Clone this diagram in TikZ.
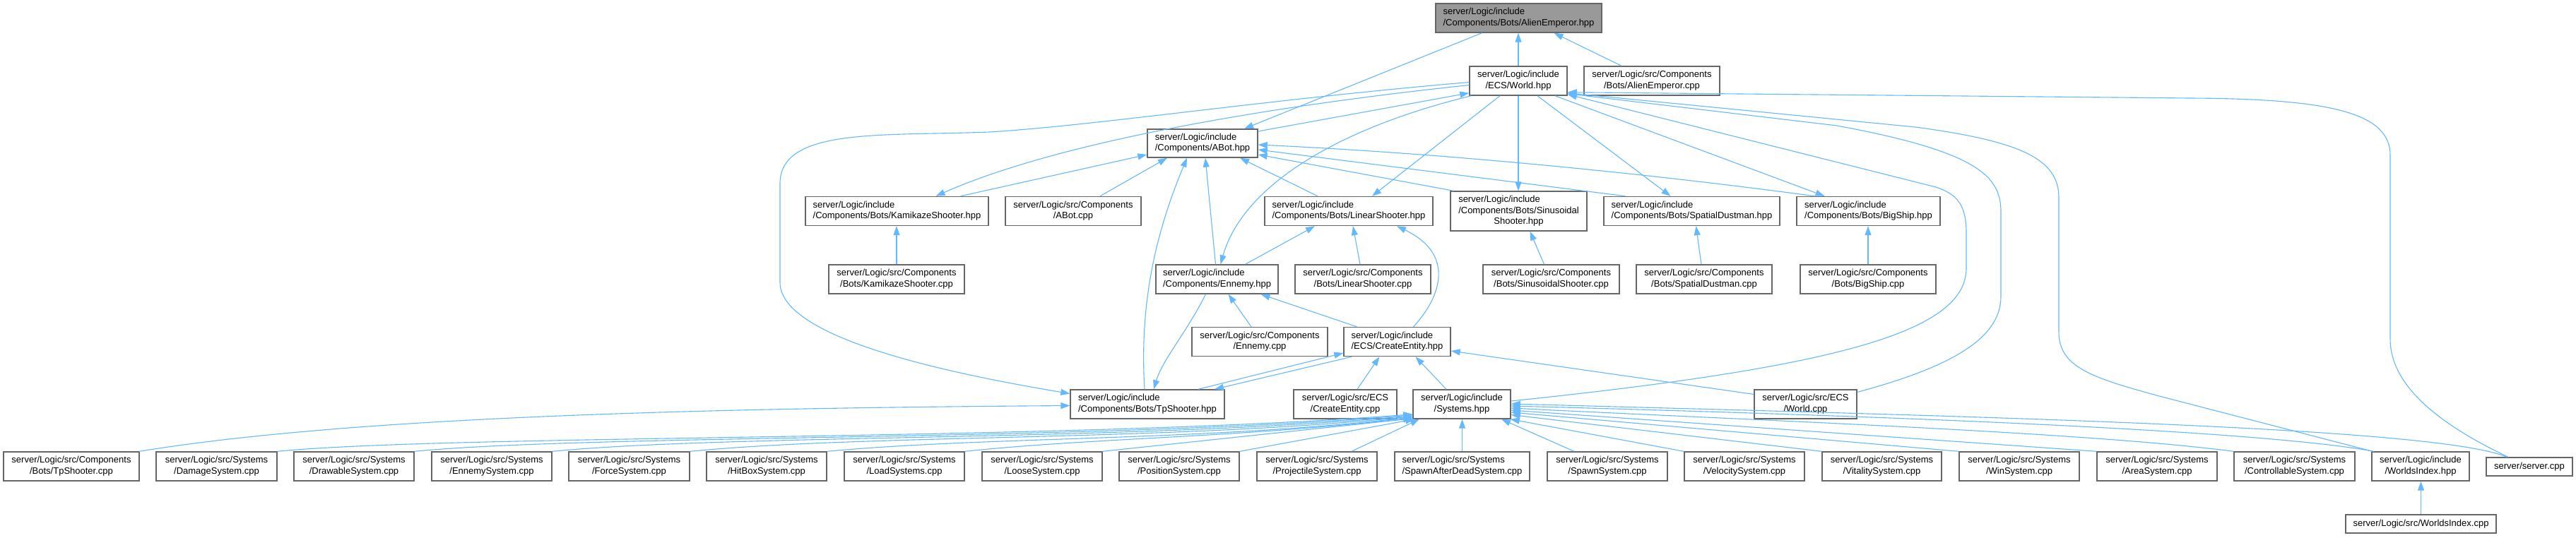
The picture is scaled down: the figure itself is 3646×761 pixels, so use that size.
\documentclass[tikz,border=0pt]{standalone}
\usepackage{fontspec}
\setmainfont{Liberation Sans}
\usetikzlibrary{arrows.meta,calc}
\definecolor{edgec}{HTML}{63B8FF}
\definecolor{boxc}{HTML}{666666}
\definecolor{rootc}{HTML}{999999}
\newcommand{\nl}[2]{\begin{tabular}{@{}l@{}}#1\\\multicolumn{1}{@{}c@{}}{#2}\end{tabular}}
\newcommand{\nlt}[3]{\begin{tabular}{@{}l@{}}#1\\#2\\\multicolumn{1}{@{}c@{}}{#3}\end{tabular}}
\begin{document}
\begin{tikzpicture}[x=1pt,y=-1pt,
  font=\fontsize{13}{15.3}\selectfont,
  box/.style={draw=boxc, line width=1.4pt, fill=white, inner xsep=3pt, inner ysep=0pt, minimum height=41pt, text=black},
  edge/.style={draw=edgec, line width=1.1pt, -{Triangle[length=13pt,width=9pt]}}]
\fill[white] (0,0) rectangle (3646,761);
\useasboundingbox (0,0) rectangle (3646,761);

% top
\node[box, fill=rootc, minimum width=235pt] (AEh) at (2149.5,25.5) {\nl{server/Logic/include}{/Components/Bots/AlienEmperor.hpp}};
\node[box, minimum width=138pt] (Worldh) at (2149,114.5) {\nl{server/Logic/include}{/ECS/World.hpp}};
\node[box, minimum width=192pt] (AEcpp) at (2338,114.5) {\nl{server/Logic/src/Components}{/Bots/AlienEmperor.cpp}};
\node[box, minimum width=156pt, minimum height=40pt] (ABoth) at (1702,203) {\nl{server/Logic/include}{/Components/ABot.hpp}};
% row 3
\node[box, minimum width=259pt] (Kamh) at (1269.5,299) {\nl{server/Logic/include}{/Components/Bots/KamikazeShooter.hpp}};
\node[box, minimum width=192pt] (ABotcpp) at (1519,299) {\nl{server/Logic/src/Components}{/ABot.cpp}};
\node[box, minimum width=238pt] (LSh) at (1909,299) {\nl{server/Logic/include}{/Components/Bots/LinearShooter.hpp}};
\node[box, minimum width=193pt, minimum height=56pt] (Sinh) at (2149.5,299) {\nlt{server/Logic/include}{/Components/Bots/Sinusoidal}{Shooter.hpp}};
\node[box, minimum width=249pt] (SDh) at (2394.5,299) {\nl{server/Logic/include}{/Components/Bots/SpatialDustman.hpp}};
\node[box, minimum width=203pt] (BSh) at (2644.5,299) {\nl{server/Logic/include}{/Components/Bots/BigShip.hpp}};
% row 4
\node[box, minimum width=192pt] (Kamcpp) at (1269,395.5) {\nl{server/Logic/src/Components}{/Bots/KamikazeShooter.cpp}};
\node[box, minimum width=173pt] (Enh) at (1722.5,395.5) {\nl{server/Logic/include}{/Components/Ennemy.hpp}};
\node[box, minimum width=192pt] (LScpp) at (1929,395.5) {\nl{server/Logic/src/Components}{/Bots/LinearShooter.cpp}};
\node[box, minimum width=193pt] (Sincpp) at (2195.5,395.5) {\nl{server/Logic/src/Components}{/Bots/SinusoidalShooter.cpp}};
\node[box, minimum width=192pt] (SDcpp) at (2412,395.5) {\nl{server/Logic/src/Components}{/Bots/SpatialDustman.cpp}};
\node[box, minimum width=192pt] (BScpp) at (2644,395.5) {\nl{server/Logic/src/Components}{/Bots/BigShip.cpp}};
% row 5
\node[box, minimum width=192pt] (Encpp) at (1783,484) {\nl{server/Logic/src/Components}{/Ennemy.cpp}};
\node[box, minimum width=151pt] (CEh) at (1977.5,484) {\nl{server/Logic/include}{/ECS/CreateEntity.hpp}};
% row 6
\node[box, minimum width=218pt] (TPh) at (1624,572.5) {\nl{server/Logic/include}{/Components/Bots/TpShooter.hpp}};
\node[box, minimum width=146pt] (CEcpp) at (1904,572.5) {\nl{server/Logic/src/ECS}{/CreateEntity.cpp}};
\node[box, minimum width=138pt] (Sysh) at (2069,572.5) {\nl{server/Logic/include}{/Systems.hpp}};
\node[box, minimum width=145pt] (Worldcpp) at (2555.5,572.5) {\nl{server/Logic/src/ECS}{/World.cpp}};
% bottom row
\node[box, minimum width=192pt] (TPcpp) at (101,660.5) {\nl{server/Logic/src/Components}{/Bots/TpShooter.cpp}};
\node[box, minimum width=171pt] (Damage) at (306.5,660.5) {\nl{server/Logic/src/Systems}{/DamageSystem.cpp}};
\node[box, minimum width=170pt] (Drawable) at (501,660.5) {\nl{server/Logic/src/Systems}{/DrawableSystem.cpp}};
\node[box, minimum width=170pt] (EnSys) at (696,660.5) {\nl{server/Logic/src/Systems}{/EnnemySystem.cpp}};
\node[box, minimum width=171pt] (Force) at (890.5,660.5) {\nl{server/Logic/src/Systems}{/ForceSystem.cpp}};
\node[box, minimum width=170pt] (HitBox) at (1085,660.5) {\nl{server/Logic/src/Systems}{/HitBoxSystem.cpp}};
\node[box, minimum width=170pt] (Load) at (1280,660.5) {\nl{server/Logic/src/Systems}{/LoadSystems.cpp}};
\node[box, minimum width=170pt] (Loose) at (1475,660.5) {\nl{server/Logic/src/Systems}{/LooseSystem.cpp}};
\node[box, minimum width=170pt] (Position) at (1669,660.5) {\nl{server/Logic/src/Systems}{/PositionSystem.cpp}};
\node[box, minimum width=170pt] (Projectile) at (1864,660.5) {\nl{server/Logic/src/Systems}{/ProjectileSystem.cpp}};
\node[box, minimum width=191pt] (SAD) at (2069.5,660.5) {\nl{server/Logic/src/Systems}{/SpawnAfterDeadSystem.cpp}};
\node[box, minimum width=170pt] (Spawn) at (2275,660.5) {\nl{server/Logic/src/Systems}{/SpawnSystem.cpp}};
\node[box, minimum width=170pt] (Velocity) at (2469,660.5) {\nl{server/Logic/src/Systems}{/VelocitySystem.cpp}};
\node[box, minimum width=169pt] (Vitality) at (2663.5,660.5) {\nl{server/Logic/src/Systems}{/VitalitySystem.cpp}};
\node[box, minimum width=170pt] (Win) at (2858,660.5) {\nl{server/Logic/src/Systems}{/WinSystem.cpp}};
\node[box, minimum width=170pt] (Area) at (3053,660.5) {\nl{server/Logic/src/Systems}{/AreaSystem.cpp}};
\node[box, minimum width=171pt] (Ctrl) at (3247.5,660.5) {\nl{server/Logic/src/Systems}{/ControllableSystem.cpp}};
\node[box, minimum width=138pt] (WIh) at (3426,660.5) {\nl{server/Logic/include}{/WorldsIndex.hpp}};
\node[box, minimum width=122pt, minimum height=26pt] (srv) at (3580,661) {server/server.cpp};
\node[box, minimum width=213pt, minimum height=26pt] (WIcpp) at (3426.5,742) {server/Logic/src/WorldsIndex.cpp};

% edges near top
\draw[edge] (Worldh.north) -- (Worldh.north |- AEh.south);
\draw[edge] ([xshift=-43pt]AEcpp.north) -- ([xshift=50pt]AEh.south);
\draw[edge] ([xshift=-52pt]AEh.south) -- ([xshift=59pt]ABoth.north);
\draw[edge] ([yshift=-6pt]Worldh.west) .. controls (1800,150) and (1500,200) .. ([xshift=55pt]Kamh.north);
\draw[edge] ([yshift=-2pt]Worldh.west) .. controls (1800,140) and (1550,178) .. (1400,187)
   .. controls (1250,193) and (1104,180) .. (1104,260) -- (1104,400)
   .. controls (1104,480) and (1350,530) .. ([yshift=15pt]TPh.west);
\draw[edge] ([yshift=17pt]ABoth.east) -- ([yshift=4pt]Worldh.south west);
\draw[edge] ([xshift=3pt]Worldh.south west) .. controls (1900,180) and (1760,260) .. ([xshift=5pt]Enh.north);
\draw[edge] ([xshift=90pt]Kamh.north) -- ([yshift=-16pt]ABoth.west);
\draw[edge] ([xshift=38pt]ABotcpp.north) -- ([xshift=-50pt]ABoth.south);
\draw[edge] ([xshift=-4pt]TPh.north) .. controls (1612,420) and (1640,320) .. ([xshift=-22pt]ABoth.south);
\draw[edge] ([xshift=-2pt]Enh.north) -- ([xshift=4pt]ABoth.south);
\draw[edge] ([xshift=-44pt]LSh.north) -- ([xshift=53pt]ABoth.south);
\draw[edge] ([xshift=5pt]Sinh.north west) -- ([yshift=-16pt]ABoth.east);
\draw[edge] ([xshift=-94pt]SDh.north) -- ([yshift=-9pt]ABoth.east);
\draw[edge] ([xshift=-76pt]BSh.north) .. controls (2400,255) and (2100,220) .. ([yshift=-2pt]ABoth.east);
\draw[edge] ([xshift=-26pt]Worldh.south) -- ([xshift=33pt]LSh.north);
\draw[edge] (Worldh.south) -- (Worldh.south |- Sinh.north);
\draw[edge] ([xshift=27pt]Worldh.south) -- ([xshift=-30pt]SDh.north);
\draw[edge] ([xshift=52pt]Worldh.south) -- ([xshift=-62pt]BSh.north);
% middle
\draw[edge] (Kamcpp.north) -- (Kamcpp.north |- Kamh.south);
\draw[edge] ([xshift=40pt]Enh.north) -- ([xshift=-48pt]LSh.south);
\draw[edge] ([xshift=-4pt]LScpp.north) -- ([xshift=6pt]LSh.south);
\draw[edge] ([xshift=23pt]CEh.north) .. controls (2040,420) and (2060,360) .. ([xshift=68pt]LSh.south);
\draw[edge] ([xshift=-10pt]Sincpp.north) -- ([xshift=16pt]Sinh.south);
\draw[edge] ([xshift=-4pt]SDcpp.north) -- ([xshift=6pt]SDh.south);
\draw[edge] (BScpp.north) -- (BScpp.north |- BSh.south);
\draw[edge] ([xshift=-12pt]Encpp.north) -- ([xshift=16pt]Enh.south);
\draw[edge] ([xshift=-57pt]CEh.north) -- ([xshift=62pt]Enh.south);
\draw[edge] ([xshift=-16pt]Enh.south) .. controls (1680,470) and (1645,510) .. ([xshift=9pt]TPh.north);
\draw[edge] ([xshift=72pt]TPh.north) -- ([yshift=-16pt]CEh.west);
\draw[edge] ([xshift=-64pt]CEh.south) -- ([xshift=95pt]TPh.north);
\draw[edge] ([xshift=17pt]CEcpp.north) -- ([xshift=-25pt]CEh.south);
\draw[edge] ([xshift=-22pt]Sysh.north) -- ([xshift=26pt]CEh.south);
\draw[edge] ([yshift=14pt]Worldcpp.west) -- ([yshift=-13pt]CEh.east);
\draw[edge] ([xshift=96pt]TPcpp.north) .. controls (500,590) and (1000,578) .. ([yshift=-2pt]TPh.west);
% bottom row to Systems
\draw[edge] (Damage.north east) .. controls (642,615) and (1500,625) .. ([yshift=7pt]Sysh.south west);
\draw[edge] (Drawable.north east) .. controls (836,615) and (1550,625) .. ([yshift=6pt]Sysh.south west);
\draw[edge] (EnSys.north east) .. controls (1031,615) and (1600,625) .. ([yshift=5pt]Sysh.south west);
\draw[edge] (Force.north east) .. controls (1226,615) and (1650,625) .. ([yshift=4pt]Sysh.south west);
\draw[edge] (HitBox.north east) .. controls (1400,618) and (1700,625) .. ([yshift=3pt]Sysh.south west);
\draw[edge] (Load.north east) .. controls (1550,620) and (1750,620) .. ([yshift=2pt]Sysh.south west);
\draw[edge] (Loose.north east) -- ([yshift=1pt]Sysh.south west);
\draw[edge] (Position.north east) -- ([xshift=3pt]Sysh.south west);
\draw[edge] ([xshift=49pt]Projectile.north) -- ([xshift=-60pt]Sysh.south);
\draw[edge] (SAD.north) -- (SAD.north |- Sysh.south);
\draw[edge] ([xshift=-47pt]Spawn.north) -- ([xshift=56pt]Sysh.south);
\draw[edge] (Velocity.north west) -- ([xshift=-1pt]Sysh.south east);
\draw[edge] (Vitality.north west) -- ([yshift=-15pt]Sysh.east);
\draw[edge] (Win.north west) -- ([yshift=-11.5pt]Sysh.east);
\draw[edge] (Area.north west) -- ([yshift=-8.5pt]Sysh.east);
\draw[edge] (Ctrl.north west) .. controls (2950,612) and (2500,596) .. ([yshift=-5.5pt]Sysh.east);
\draw[edge] ([xshift=-66pt]WIh.north) .. controls (3200,610) and (2700,590) .. ([yshift=-2.5pt]Sysh.east);
\draw[edge] ([xshift=-32pt]srv.north) .. controls (3450,605) and (2800,590) .. ([yshift=0.5pt]Sysh.east);
\draw[edge] (WIcpp.north) -- (WIcpp.north |- WIh.south);
% long curves back to World.hpp
\draw[edge] ([yshift=4.5pt]Sysh.east) .. controls (2600,520) and (2783,470) .. (2783,380) -- (2783,330)
   .. controls (2783,290) and (2770,275) .. (2740,265) -- ([yshift=2pt]Worldh.south east);
\draw[edge] ([yshift=17pt]Worldcpp.east) .. controls (2760,520) and (2832,480) .. (2832,420) -- (2832,300)
   .. controls (2832,250) and (2800,215) .. (2600,178) -- ([yshift=3pt]Worldh.south east);
\draw[edge] ([xshift=-68pt]WIh.north) -- (3060,562) .. controls (2960,535) and (2914,520) .. (2914,470) -- (2914,280)
   .. controls (2914,225) and (2860,200) .. (2711,180) -- ([yshift=4pt]Worldh.south east);
\draw[edge] ([xshift=-30pt]srv.north) .. controls (3450,600) and (3383,545) .. (3383,480) -- (3383,220)
   .. controls (3383,160) and (3300,140) .. (3100,139) -- ([yshift=5pt]Worldh.south east);
\end{tikzpicture}
\end{document}
